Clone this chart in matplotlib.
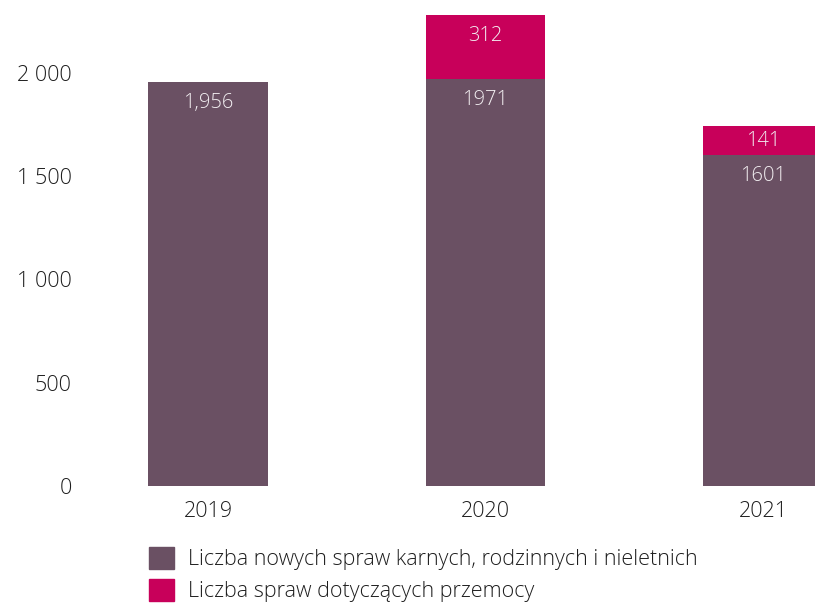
import numpy as np
import matplotlib.pyplot as plt
from matplotlib.patches import Patch

plt.rcParams['font.family'] = ['Open Sans', 'DejaVu Sans']

# Dane
lata = ['2019', '2020', '2021']
sprawy_nowe = [1956, 1971, 1601]
sprawy_przemoc = [0, 312, 141]
etykiety_nowe = ['1,956', '1971', '1601']
etykiety_przemoc = ['', '312', '141']
y_ticks = [0, 500, 1000, 1500, 2000]
y_labels = ['0', '500', '1 000', '1 500', '2 000']
legenda = ['Liczba nowych spraw karnych, rodzinnych i nieletnich',
           'Liczba spraw dotyczących przemocy']

kolor_nowe = '#6a5063'
kolor_przemoc = '#c8005a'
kolor_tekst = '#1e1e1e'

fig = plt.figure(figsize=(8.15, 6.05), dpi=100)
ax = fig.add_axes([80 / 815, 1 - 486 / 605, 1 - 80 / 815, 486 / 605])

x = np.arange(len(lata))
w = 0.432
ax.bar(x, sprawy_nowe, width=w, color=kolor_nowe)
ax.bar(x, sprawy_przemoc, width=w, bottom=sprawy_nowe, color=kolor_przemoc)

# Etykiety w słupkach (ok. 21 px pod górną krawędzią segmentu)
off = 21 / 0.2065
for i in range(len(lata)):
    ax.text(x[i], sprawy_nowe[i] - off, etykiety_nowe[i], ha='center', va='center',
            color='#f2eef1', fontsize=14.5, fontweight='light')
    if sprawy_przemoc[i] > 0:
        top = sprawy_nowe[i] + sprawy_przemoc[i]
        y = top - off if sprawy_przemoc[i] > 250 else sprawy_nowe[i] + sprawy_przemoc[i] / 2
        ax.text(x[i], y, etykiety_przemoc[i], ha='center', va='center',
                color='#f2eef1', fontsize=14.5, fontweight='light')

ax.set_xlim(-0.4613, 2.1875)
ax.set_ylim(0, 486 / 0.2065)
ax.set_xticks(x)
ax.set_xticklabels(lata)
ax.set_yticks(y_ticks)
ax.set_yticklabels(y_labels)
ax.tick_params(length=0, labelsize=15.5, colors=kolor_tekst)
ax.tick_params(axis='x', pad=11)
ax.tick_params(axis='y', pad=6)
for lab in ax.get_xticklabels() + ax.get_yticklabels():
    lab.set_fontweight('light')
for s in ax.spines.values():
    s.set_visible(False)

uchwyty = [Patch(color=kolor_nowe), Patch(color=kolor_przemoc)]
leg = fig.legend(uchwyty, legenda, loc='upper left', bbox_to_anchor=(140 / 815, 1 - 538 / 605),
                 frameon=False, fontsize=15.5, handlelength=1.2, handleheight=1.2,
                 handletextpad=0.65, labelspacing=0.4, borderaxespad=0)
for t in leg.get_texts():
    t.set_color(kolor_tekst)
    t.set_fontweight('light')

fig.savefig('out.png', dpi=100)
